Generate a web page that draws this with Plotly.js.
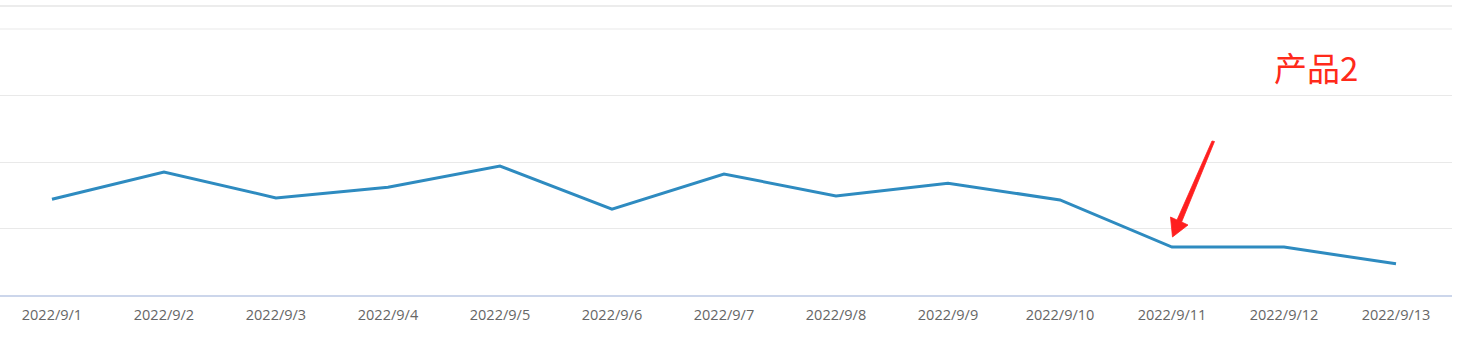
<!DOCTYPE html>
<html>
<head>
<meta charset="utf-8">
<script src="https://cdn.plot.ly/plotly-3.0.1.min.js"></script>
<style>html,body{margin:0;padding:0;background:#fff;}#chart{width:1459px;height:338px;}</style>
</head>
<body>
<div id="chart"></div>
<script>
const categories = ["2022/9/1","2022/9/2","2022/9/3","2022/9/4","2022/9/5","2022/9/6","2022/9/7","2022/9/8","2022/9/9","2022/9/10","2022/9/11","2022/9/12","2022/9/13"];
const values = [144, 185, 146, 162, 194, 129, 182, 149, 168, 143, 72, 72, 47];
const labelText = "产品2";

const trace = {
  x: categories,
  y: values,
  type: "scatter",
  mode: "lines",
  line: {color: "#2e8bc0", width: 3},
  hoverinfo: "skip"
};

// tapered red arrow (annotation decoration), in paper coordinates
const arrowPath = "M0.83471,0.57895 L0.81061,0.28195 L0.80613,0.29323 L0.80750,0.21805 L0.81818,0.26316 L0.81377,0.27444 L0.83643,0.57707 Z";

const layout = {
  width: 1459,
  height: 338,
  margin: {l: 0, r: 7, t: 29, b: 43},
  paper_bgcolor: "#fff",
  plot_bgcolor: "#fff",
  showlegend: false,
  font: {family: "Open Sans, Noto Sans, sans-serif", color: "#666666", size: 14},
  xaxis: {
    type: "category",
    range: [-0.464, 12.5],
    showgrid: false,
    zeroline: false,
    showline: true,
    linecolor: "#ccd6eb",
    linewidth: 1.5,
    ticks: "outside",
    ticklen: 6,
    tickcolor: "rgba(0,0,0,0)",
    tickfont: {size: 14.5, color: "#666666", family: "Open Sans, Noto Sans, sans-serif"},
    fixedrange: true
  },
  yaxis: {
    range: [0, 400],
    dtick: 100,
    showticklabels: false,
    showgrid: true,
    gridcolor: "#e9e9e9",
    gridwidth: 1,
    zeroline: false,
    showline: false,
    fixedrange: true
  },
  shapes: [
    {type: "line", xref: "paper", yref: "paper", x0: 0, x1: 1, y0: 1.0865, y1: 1.0865,
     line: {color: "#e6e6e6", width: 1.5}},
    {type: "line", xref: "paper", yref: "paper", x0: 0, x1: 1, y0: 1, y1: 1,
     line: {color: "#e9e9e9", width: 1}},
    {type: "path", xref: "paper", yref: "paper", path: arrowPath,
     fillcolor: "#ff1f1f", line: {color: "#ff1f1f", width: 0.8}}
  ],
  annotations: [
    {xref: "paper", yref: "paper", x: 0.9063, y: 0.858, text: labelText, showarrow: false,
     font: {size: 33, color: "#ff2a1a", family: "Noto Sans CJK SC, sans-serif"},
     xanchor: "center", yanchor: "middle"}
  ]
};

Plotly.newPlot("chart", [trace], layout, {staticPlot: true, displayModeBar: false});
</script>
</body>
</html>
